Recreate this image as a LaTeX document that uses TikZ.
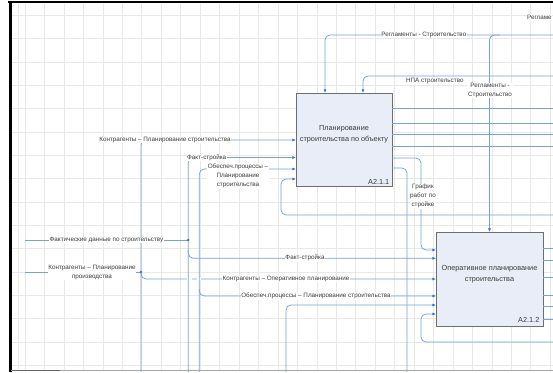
\documentclass[tikz,border=0pt]{standalone}
\usepackage{fontspec}
\setmainfont{Liberation Sans}
\usetikzlibrary{arrows.meta}
\definecolor{linec}{HTML}{78A0DA}
\definecolor{arrc}{HTML}{3E6FC4}
\definecolor{gridc}{HTML}{E8E8E8}
\definecolor{boxfill}{HTML}{E8EDF7}
\definecolor{boxdraw}{HTML}{6E6E6E}
\definecolor{txtc}{HTML}{3A3A3A}
\begin{document}
\begin{tikzpicture}[x=1pt,y=-1pt,
  conn/.style={draw=linec, line width=0.75pt, rounded corners=5pt},
  arr/.style={conn, -{Latex[length=3.6pt,width=3pt,color=arrc]}},
  lbl/.style={fill=white, inner sep=0.6pt, text=txtc, font=\fontsize{6.3}{9}\selectfont, align=center},
  idefbox/.style={draw=boxdraw, fill=boxfill, line width=0.9pt, inner sep=0pt, outer sep=0pt},
  boxtxt/.style={text=txtc, font=\fontsize{7.3}{10.5}\selectfont, align=center, inner sep=0pt},
  gridline/.style={draw=gridc, line width=0.5pt},
]
\useasboundingbox (0,0) rectangle (553,372);
\clip (0,0) rectangle (553,372);
\fill[white] (0,0) rectangle (553,372);
% grid
\foreach \i in {0,...,27} \draw[gridline] ({25+19.45*\i},4) -- ({25+19.45*\i},370);
\draw[gridline] (18.3,4) -- (18.3,370);
\foreach \j in {0,...,15} \draw[gridline] (11,{15.33+23.33*\j}) -- (553,{15.33+23.33*\j});
% frame
\draw[black, line width=2pt] (8,2) -- (553,2);
\draw[black, line width=2.3pt] (10.5,1) -- (10.5,372);
\draw[black!35, line width=0.8pt] (11,370.7) -- (553,370.7);
\draw[black!60, line width=0.9pt] (12,370.7) -- (60,370.7);

% boxes
\node[idefbox, minimum width=96pt, minimum height=93pt] (b1) at (344,139.5) {};
\node[idefbox, minimum width=107pt, minimum height=94pt] (b2) at (489.5,279) {};

% line with jump gaps (drawn first)
\draw[arr] (141,272) -- (141,279) -- (b2.west |- 0,279);
\draw[white, line width=2pt] (186.5,279) -- (191.5,279);
\draw[white, line width=2pt] (196.5,279) -- (201,279);

% top controls
\draw[arr] (553,35) -- (325,35) -- (b1.north -| 325,0);
\draw[arr] (500,35) -- (489.5,35) -- (b2.north);
\draw[arr] (553,76) -- (363,76) -- (b1.north -| 363,0);

% outputs of box 1
\foreach \yy in {108,123,134,146} \draw[conn] (b1.east |- 0,\yy) -- (553,\yy);
\draw[arr] (b1.east |- 0,158) -- (421,158) -- (421,250) -- (b2.west |- 0,250);
\draw[conn] (b1.east |- 0,168) -- (407,168) -- (407,372);

% inputs of box 1
\draw[arr] (141,372) -- (141,140) -- (b1.west |- 0,140);
\draw[arr] (188.3,372) -- (188.3,157.5) -- (b1.west |- 0,157.5);
\draw[arr] (199.3,372) -- (199.3,169) -- (b1.west |- 0,169);
\draw[arr] (553,215) -- (281,215) -- (281,179) -- (b1.west |- 0,179);

% external inputs
\draw[conn] (25,240) -- (188.3,240);
\draw[conn] (25,272) -- (141,272);
\fill[arrc] (141,272) circle (1.4);
\fill[arrc] (188.3,240) circle (1.4);

% inputs of box 2
\draw[arr] (188.3,250) -- (188.3,258.3) -- (b2.west |- 0,258.3);
\draw[arr] (199.3,289) -- (199.3,296) -- (b2.west |- 0,296);
\draw[arr] (286,372) -- (286,305) -- (b2.west |- 0,305);
\draw[arr] (553,342) -- (421,342) -- (421,314) -- (b2.west |- 0,314);

% outputs of box 2
\foreach \yy in {248.3,260.7,277.7,295.7,306.7,319.3} \draw[conn] (b2.east |- 0,\yy) -- (553,\yy);

% box texts
\node[boxtxt] (t1) at (344,134) {Планирование\\строительства по объекту};
\node[boxtxt, anchor=east] (n1) at (389.5,181.5) {A2.1.1};
\node[boxtxt] (t2) at (489.5,274) {Оперативное планирование\\строительства};
\node[boxtxt, anchor=east] (n2) at (539.5,320) {A2.1.2};

% labels
\node[lbl, anchor=east] (l0) at (552.5,17) {Регламе};
\node[lbl] (l1) at (423.8,35) {Регламенты - Строительство};
\node[lbl] (l2) at (434.8,80.7) {НПА строительство};
\node[lbl] (l3) at (490,90.5) {Регламенты -\\Строительство};
\node[lbl] (l4) at (423,196.3) {График\\работ по\\стройке};
\node[lbl] (l5) at (165,140) {Контрагенты – Планирование строительства};
\node[lbl] (l6) at (206.7,157.5) {Факт-стройка};
\node[lbl] (l7) at (238,176) {Обеспеч.процессы –\\Планирование\\строительства};
\node[lbl] (l8) at (106.5,240) {Фактические данные по строительству};
\node[lbl] (l9) at (92,272) {Контрагенты – Планирование\\производства};
\node[lbl] (l10) at (305,258.3) {Факт-стройка};
\node[lbl] (l11) at (286,279) {Контрагенты – Оперативное планирование};
\node[lbl] (l12) at (316,296) {Обеспеч.процессы – Планирование строительства};
\end{tikzpicture}
\end{document}
